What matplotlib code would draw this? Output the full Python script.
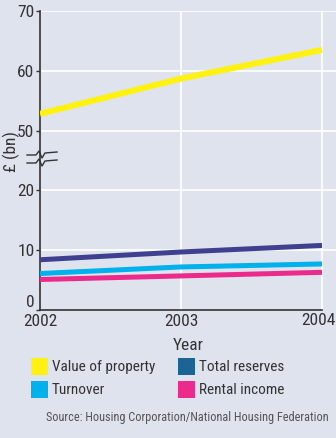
"""Housing association finances 2002-2004, broken y axis."""

import matplotlib
matplotlib.use("Agg")
import matplotlib.pyplot as plt
from matplotlib.lines import Line2D
from matplotlib.patches import Rectangle

W, H = 336, 438
BG = "#dfe3ee"
TXT = "#333333"

years = [2002, 2003, 2004]
value_of_property = [52.8, 58.7, 63.5]
total_reserves = [8.4, 9.7, 10.8]
turnover = [6.1, 7.2, 7.7]
rental_income = [5.1, 5.7, 6.3]

ytick_values = [0, 10, 20, 50, 60, 70]
legend_labels = ["Value of property", "Turnover", "Total reserves", "Rental income"]
source_text = "Source: Housing Corporation/National Housing Federation"

# the gap between 20 and 50 is squeezed into one 10-unit step
BREAK_LOW, BREAK_HIGH = 20, 50


def squash(v):
    return v if v <= BREAK_LOW else v - (BREAK_HIGH - BREAK_LOW - 10)


def fx(px):
    return px / W


def fy(py):
    return 1 - py / H


plt.rcParams["font.family"] = ["Roboto Condensed", "Open Sans", "DejaVu Sans"]

fig = plt.figure(figsize=(W / 100, H / 100), dpi=100, facecolor=BG)
ax = fig.add_axes([fx(40), fy(310), fx(336) - fx(40), fy(11) - fy(310)])
ax.set_facecolor(BG)

x_right = 2004 + 14 / 141
ax.set_xlim(2002, x_right)
ax.set_ylim(0, squash(70))

# Grid.
for v in ytick_values[1:]:
    ax.axhline(squash(v), color="white", linewidth=1.2, zorder=1)
for x in years[1:]:
    ax.axvline(x, color="white", linewidth=1.2, zorder=1)

# Lines.
ax.plot(years, [squash(v) for v in value_of_property], color="#fff212", linewidth=4.4,
        solid_capstyle="butt", zorder=3)
ax.plot(years, total_reserves, color="#3f4190", linewidth=3.6, solid_capstyle="butt", zorder=3)
ax.plot(years, turnover, color="#00b1ec", linewidth=3.6, solid_capstyle="butt", zorder=3)
ax.plot(years, rental_income, color="#ec2a8c", linewidth=3.6, solid_capstyle="butt", zorder=3)

# Axes styling.
for side in ["top", "right"]:
    ax.spines[side].set_visible(False)
ax.spines["left"].set_color(TXT)
ax.spines["bottom"].set_color(TXT)
ax.spines["left"].set_linewidth(1.2)
ax.spines["bottom"].set_linewidth(1.2)
ax.spines["bottom"].set_bounds(2002, 2004)

ax.set_yticks([squash(v) for v in ytick_values])
ax.set_yticklabels([str(v) for v in ytick_values])
ax.set_xticks(years)
ax.set_xticklabels([str(y) for y in years])
ax.tick_params(axis="y", length=3, width=1, color=TXT, labelcolor=TXT, labelsize=12.5, pad=1)
ax.tick_params(axis="x", length=0, labelcolor=TXT, labelsize=12.5, pad=3)
ax.set_xlabel("Year", color=TXT, fontsize=12.5, labelpad=6)
# the zero label sits above its tick so it clears the year below
ax.get_yticklabels()[0].set_va("bottom")

# last year label sits flush with the right edge
last = ax.get_xticklabels()[-1]
last.set_visible(False)
ax.text(x_right, -0.011, str(years[-1]), transform=ax.get_xaxis_transform(),
        ha="right", va="top", color=TXT, fontsize=12.5)

fig.text(fx(11), fy(152), "£ (bn)", rotation=90, color=TXT, fontsize=12.5,
         ha="center", va="center")

# Break marks on the y axis.
for dy in (0, 8):
    pts = [(27, 155), (36, 155), (39, 151), (42, 158), (45, 153), (57, 152)]
    xs = [fx(p[0]) for p in pts]
    ys = [fy(p[1] + dy) for p in pts]
    fig.add_artist(Line2D(xs, ys, color=TXT, linewidth=1.0, transform=fig.transFigure))

# Legend.
legend_colors = ["#fff212", "#00b1ec", "#1b6594", "#ec2a8c"]
legend_pos = [(31, 358), (31, 381), (178, 358), (178, 381)]
for label, color, (px, py) in zip(legend_labels, legend_colors, legend_pos):
    fig.add_artist(Rectangle((fx(px), fy(py + 17)), 17 / W, 17 / H, facecolor=color,
                             edgecolor="none", transform=fig.transFigure))
    fig.text(fx(px + 21), fy(py + 9), label, color=TXT, fontsize=11, va="center", ha="left")

fig.text(fx(46), fy(418), source_text, color="#555555", fontsize=8.8, va="center", ha="left")

fig.savefig("out.png", dpi=100, facecolor=BG)
